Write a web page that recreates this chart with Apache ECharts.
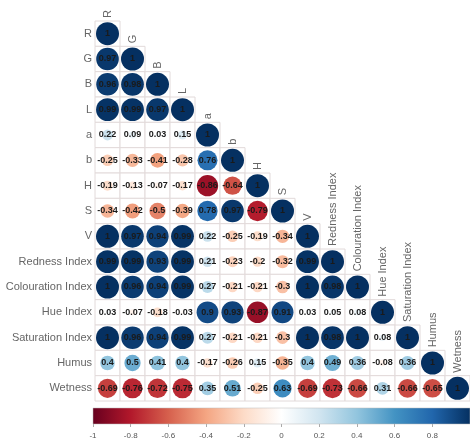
<!DOCTYPE html>
<html><head><meta charset="utf-8">
<script src="https://cdn.jsdelivr.net/npm/echarts@6/dist/echarts.min.js"></script>
<style>html,body{margin:0;padding:0;background:#fff}#c{width:470px;height:447px}</style>
</head><body><div id="c"></div>
<script>
const variables = ['R','G','B','L','a','b','H','S','V','Redness Index','Colouration Index','Hue Index','Saturation Index','Humus','Wetness'];
const rowR = [1];
const rowG = [0.97, 1];
const rowB = [0.96, 0.98, 1];
const rowL = [0.99, 0.99, 0.97, 1];
const rowA = [0.22, 0.09, 0.03, 0.15, 1];
const rowBstar = [-0.25, -0.33, -0.41, -0.28, 0.76, 1];
const rowH = [-0.19, -0.13, -0.07, -0.17, -0.86, -0.64, 1];
const rowS = [-0.34, -0.42, -0.5, -0.39, 0.78, 0.97, -0.79, 1];
const rowV = [1, 0.97, 0.94, 0.99, 0.22, -0.25, -0.19, -0.34, 1];
const rowRedness = [0.99, 0.99, 0.93, 0.99, 0.21, -0.23, -0.2, -0.32, 0.99, 1];
const rowColouration = [1, 0.96, 0.94, 0.99, 0.27, -0.21, -0.21, -0.3, 1, 0.98, 1];
const rowHue = [0.03, -0.07, -0.18, -0.03, 0.9, 0.93, -0.87, 0.91, 0.03, 0.05, 0.08, 1];
const rowSaturation = [1, 0.96, 0.94, 0.99, 0.27, -0.21, -0.21, -0.3, 1, 0.98, 1, 0.08, 1];
const rowHumus = [0.4, 0.5, 0.41, 0.4, -0.17, -0.26, 0.15, -0.35, 0.4, 0.49, 0.36, -0.08, 0.36, 1];
const rowWetness = [-0.69, -0.76, -0.72, -0.75, 0.35, 0.51, -0.25, 0.63, -0.69, -0.73, -0.66, 0.31, -0.66, -0.65, 1];
const colorbarRange = [-1, 1];

const rows = [rowR,rowG,rowB,rowL,rowA,rowBstar,rowH,rowS,rowV,rowRedness,rowColouration,rowHue,rowSaturation,rowHumus,rowWetness];
const palette = ["#67001F","#B2182B","#D6604D","#F4A582","#FDDBC7","#FFFFFF","#D1E5F0","#92C5DE","#4393C3","#2166AC","#053061"];
const cells = [];
rows.forEach((r, i) => r.forEach((v, j) => cells.push([j, i, v])));
const diag = variables.map((v, i) => [i, i]);
const FONT = '"Liberation Sans", Arial, sans-serif';

const chart = echarts.init(document.getElementById('c'), null, {renderer: 'canvas'});
chart.setOption({
  animation: false,
  backgroundColor: '#fff',
  grid: [
    {left: 95, top: 21, width: 375, height: 380},
    {left: 93, top: 408, width: 377, height: 16}
  ],
  xAxis: [
    {type: 'category', data: variables, gridIndex: 0, show: false},
    {type: 'value', gridIndex: 1, min: colorbarRange[0], max: colorbarRange[1], interval: 0.2,
     axisLine: {show: false}, splitLine: {show: false},
     axisTick: {show: true, length: 3, lineStyle: {color: '#aaa'}},
     axisLabel: {fontSize: 8, color: '#555', fontFamily: FONT, margin: 8, showMaxLabel: false,
       formatter: v => String(Math.round(v * 10) / 10)}}
  ],
  yAxis: [
    {type: 'category', data: variables, gridIndex: 0, inverse: true,
     axisLine: {show: false}, axisTick: {show: false}, splitLine: {show: false},
     axisLabel: {fontSize: 11, color: '#666', fontFamily: FONT, margin: 3}},
    {type: 'value', gridIndex: 1, min: 0, max: 1, show: false}
  ],
  visualMap: {show: false, type: 'continuous', min: -1, max: 1, dimension: 2, seriesIndex: 1,
    inRange: {color: palette}},
  series: [
    {type: 'custom', xAxisIndex: 0, yAxisIndex: 0, data: cells, z: 1,
     renderItem(params, api) {
       const p = api.coord([api.value(0), api.value(1)]);
       const s = api.size([1, 1]);
       return {type: 'rect', shape: {x: p[0] - s[0] / 2, y: p[1] - s[1] / 2, width: s[0], height: s[1]},
         style: {fill: '#fff', stroke: '#e2dada', lineWidth: 1}};
     }},
    {type: 'scatter', xAxisIndex: 0, yAxisIndex: 0, data: cells, z: 2,
     symbol: 'circle',
     symbolSize: val => Math.sqrt(Math.abs(val[2])) * 23,
     itemStyle: {opacity: 1},
     label: {show: true, position: 'inside', fontSize: 9, fontWeight: 'bold', color: '#1a1a1a', fontFamily: FONT,
       formatter: p => String(p.value[2])}},
    {type: 'custom', xAxisIndex: 0, yAxisIndex: 0, data: diag, z: 3,
     renderItem(params, api) {
       const p = api.coord([api.value(0), api.value(1)]);
       const s = api.size([1, 1]);
       return {type: 'text', x: p[0], y: p[1] - s[1] / 2 - 3, rotation: Math.PI / 2,
         style: {text: variables[params.dataIndex], align: 'left', verticalAlign: 'middle',
           fill: '#666', font: '11px ' + FONT}};
     }},
    {type: 'custom', xAxisIndex: 1, yAxisIndex: 1, data: [colorbarRange], z: 1,
     renderItem(params, api) {
       const a = api.coord([api.value(0), 0]);
       const b = api.coord([api.value(1), 1]);
       return {type: 'rect', shape: {x: a[0], y: b[1], width: b[0] - a[0], height: a[1] - b[1]},
         style: {fill: {type: 'linear', x: 0, y: 0, x2: 1, y2: 0,
           colorStops: palette.map((c, k) => ({offset: k / (palette.length - 1), color: c}))},
           stroke: '#bbb', lineWidth: 0.5}};
     }}
  ]
});
</script></body></html>
